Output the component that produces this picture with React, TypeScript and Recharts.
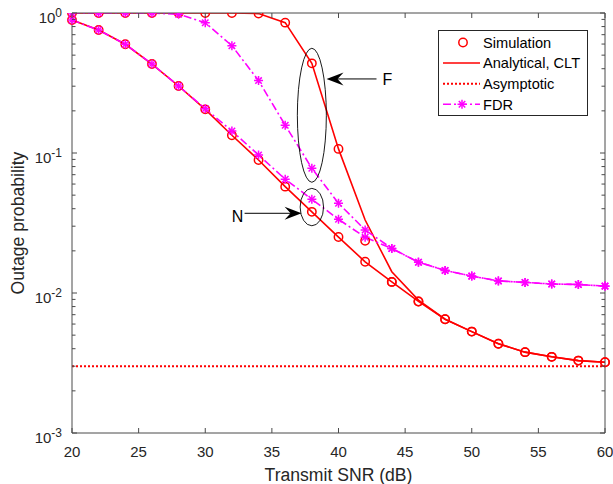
import React from 'react';
import { LineChart, Line, XAxis, YAxis, Legend, ReferenceDot } from 'recharts';

// ---------- data ----------
const snr = [20, 22, 24, 26, 28, 30, 32, 34, 36, 38, 40, 42, 44, 46, 48, 50, 52, 54, 56, 58, 60];
const simFar = [1, 1, 1, 1, 1, 1, 1, 0.99, 0.853, 0.437, 0.107, 0.0236, 0.012, 0.0087, 0.0065, 0.0053, 0.00434, 0.00378, 0.0035, 0.00329, 0.0032];
const cltFar = [1, 1, 1, 1, 1, 1, 1, 0.99, 0.853, 0.437, 0.107, 0.0332, 0.0142, 0.0089, 0.0065, 0.0053, 0.00434, 0.00378, 0.0035, 0.00329, 0.0032];
const simNear = [0.891, 0.756, 0.598, 0.432, 0.301, 0.205, 0.134, 0.0891, 0.0575, 0.038, 0.0251, 0.0167, 0.012, 0.0087, 0.0065, 0.0053, 0.00434, 0.00378, 0.0035, 0.00329, 0.0032];
const cltNear = [0.891, 0.756, 0.598, 0.432, 0.301, 0.205, 0.134, 0.0891, 0.0575, 0.038, 0.0251, 0.0167, 0.012, 0.0087, 0.0065, 0.0053, 0.00434, 0.00378, 0.0035, 0.00329, 0.0032];
const fdrFar = [1, 1, 1, 1, 0.98, 0.853, 0.584, 0.329, 0.158, 0.0778, 0.0437, 0.0282, 0.0208, 0.0166, 0.0145, 0.0132, 0.0122, 0.0119, 0.0116, 0.0115, 0.0112];
const fdrNear = [0.891, 0.756, 0.598, 0.432, 0.301, 0.207, 0.1436, 0.0968, 0.065, 0.0467, 0.0336, 0.025, 0.0208, 0.0166, 0.0145, 0.0132, 0.0122, 0.0119, 0.0116, 0.0115, 0.0112];
const asymptotic = [0.003, 0.003, 0.003, 0.003, 0.003, 0.003, 0.003, 0.003, 0.003, 0.003, 0.003, 0.003, 0.003, 0.003, 0.003, 0.003, 0.003, 0.003, 0.003, 0.003, 0.003];

const xTicks = [20, 25, 30, 35, 40, 45, 50, 55, 60];
const yTicks = [
  0.001, 0.002, 0.003, 0.004, 0.005, 0.006, 0.007, 0.008, 0.009,
  0.01, 0.02, 0.03, 0.04, 0.05, 0.06, 0.07, 0.08, 0.09,
  0.1, 0.2, 0.3, 0.4, 0.5, 0.6, 0.7, 0.8, 0.9, 1,
];

const legendLabels = ['Simulation', 'Analytical, CLT', 'Asymptotic', 'FDR'];

// annotation anchors (data coordinates)
const farEllipse = { x: 38, y: 0.186 };
const nearEllipse = { x: 38, y: 0.0411 };
const farArrowTip = { x: 39.1, y: 0.338 };
const nearArrowTip = { x: 37.23, y: 0.0371 };

const data = snr.map((s, i) => ({
  snr: s,
  simFar: simFar[i],
  cltFar: cltFar[i],
  simNear: simNear[i],
  cltNear: cltNear[i],
  fdrFar: fdrFar[i],
  fdrNear: fdrNear[i],
  asym: asymptotic[i],
}));

// ---------- styles ----------
const FONT = '"Liberation Sans", Arial, Helvetica, sans-serif';
const AX = '#4a4a4a';
const TXT = '#262626';
const RED = '#ff0000';
const MAG = '#ff00ff';
const DASHDOT = '8 3 2 3';

const isMajor = (v: number) => Math.abs(Math.log10(v) - Math.round(Math.log10(v))) < 1e-6;

const BottomTick = (p: any) => {
  const { x, y, payload } = p;
  return (
    <g>
      <line x1={x} x2={x} y1={y} y2={y - 5} stroke={AX} strokeWidth={1} />
      <text x={x} y={y + 24} textAnchor="middle" fontSize={15} fill={TXT} fontFamily={FONT}>
        {payload.value}
      </text>
    </g>
  );
};

const TopTick = (p: any) => {
  const { x, y } = p;
  return <line x1={x} x2={x} y1={y} y2={y + 5} stroke={AX} strokeWidth={1} />;
};

const LeftTick = (p: any) => {
  const { x, y, payload } = p;
  const v = payload.value as number;
  const major = isMajor(v);
  return (
    <g>
      <line x1={x} x2={x + (major ? 5 : 3.5)} y1={y} y2={y} stroke={AX} strokeWidth={1} />
      {major && (
        <text x={x - 10} y={y + 10} textAnchor="end" fontSize={15} fill={TXT} fontFamily={FONT}>
          <tspan>10</tspan>
          <tspan dy={-6} fontSize={12}>{String(Math.round(Math.log10(v)))}</tspan>
        </text>
      )}
    </g>
  );
};

const RightTick = (p: any) => {
  const { x, y, payload } = p;
  const major = isMajor(payload.value as number);
  return <line x1={x} x2={x - (major ? 5 : 3.5)} y1={y} y2={y} stroke={AX} strokeWidth={1} />;
};

const CircleDot = (p: any) => {
  const { cx, cy, index } = p;
  if (cx == null || cy == null) return <g key={index} />;
  return <circle key={index} cx={cx} cy={cy} r={4.2} fill="none" stroke={RED} strokeWidth={1.5} />;
};

const Asterisk = ({ cx, cy, r = 4.5 }: { cx: number; cy: number; r?: number }) => {
  const d = r * 0.72;
  return (
    <g stroke={MAG} strokeWidth={1.5}>
      <line x1={cx - r} x2={cx + r} y1={cy} y2={cy} />
      <line x1={cx} x2={cx} y1={cy - r} y2={cy + r} />
      <line x1={cx - d} x2={cx + d} y1={cy - d} y2={cy + d} />
      <line x1={cx - d} x2={cx + d} y1={cy + d} y2={cy - d} />
    </g>
  );
};

const AsteriskDot = (p: any) => {
  const { cx, cy, index } = p;
  if (cx == null || cy == null) return <g key={index} />;
  return (
    <g key={index}>
      <Asterisk cx={cx} cy={cy} />
    </g>
  );
};

const LegendBox = () => {
  const rowY = [12.5, 33, 53.7, 74.3];
  return (
    <svg width={151} height={87} style={{ display: 'block' }}>
      <rect x={0.5} y={0.5} width={149} height={85} fill="#fff" stroke="#262626" strokeWidth={1} />
      <circle cx={25} cy={rowY[0]} r={4.2} fill="none" stroke={RED} strokeWidth={1.5} />
      <line x1={5} x2={42} y1={rowY[1]} y2={rowY[1]} stroke={RED} strokeWidth={1.6} />
      <line x1={5} x2={42} y1={rowY[2]} y2={rowY[2]} stroke={RED} strokeWidth={2} strokeDasharray="2 2" />
      <line x1={5} x2={42} y1={rowY[3]} y2={rowY[3]} stroke={MAG} strokeWidth={1.6} strokeDasharray={DASHDOT} />
      <Asterisk cx={24} cy={rowY[3]} />
      {legendLabels.map((t, i) => (
        <text key={t} x={45} y={rowY[i] + 5.3} fontSize={14.6} fill="#000" fontFamily={FONT}>
          {t}
        </text>
      ))}
    </svg>
  );
};

export default function App() {
  return (
    <div style={{ position: 'absolute', left: 0, top: 0 }}>
      <LineChart width={613} height={484} data={data} margin={{ top: 12, right: 7, bottom: 50, left: 71 }}>
        <XAxis
          xAxisId="b"
          dataKey="snr"
          type="number"
          domain={[20, 60]}
          ticks={xTicks}
          interval={0}
          height={1}
          tickSize={0}
          tickMargin={0}
          tickLine={false}
          axisLine={{ stroke: AX, strokeWidth: 1 }}
          tick={<BottomTick />}
          label={(props: any) => {
            const vb = props.viewBox || {};
            return (
              <text x={vb.x + vb.width / 2} y={481} textAnchor="middle" fontSize={17.6} fill={TXT} fontFamily={FONT}>
                Transmit SNR (dB)
              </text>
            );
          }}
        />
        <XAxis
          xAxisId="t"
          orientation="top"
          dataKey="snr"
          type="number"
          domain={[20, 60]}
          ticks={xTicks}
          interval={0}
          height={1}
          tickSize={0}
          tickMargin={0}
          tickLine={false}
          axisLine={{ stroke: AX, strokeWidth: 1 }}
          tick={<TopTick />}
        />
        <YAxis
          yAxisId="l"
          type="number"
          scale="log"
          domain={[0.001, 1]}
          allowDataOverflow
          ticks={yTicks}
          interval={0}
          width={1}
          tickSize={0}
          tickMargin={0}
          tickLine={false}
          axisLine={{ stroke: AX, strokeWidth: 1 }}
          tick={<LeftTick />}
          label={(props: any) => {
            const vb = props.viewBox || {};
            const cy = vb.y + vb.height / 2;
            return (
              <text
                x={24}
                y={cy}
                transform={`rotate(-90, 24, ${cy})`}
                textAnchor="middle"
                fontSize={17.6}
                fill={TXT}
                fontFamily={FONT}
              >
                Outage probability
              </text>
            );
          }}
        />
        <YAxis
          yAxisId="r"
          orientation="right"
          type="number"
          scale="log"
          domain={[0.001, 1]}
          allowDataOverflow
          ticks={yTicks}
          interval={0}
          width={1}
          tickSize={0}
          tickMargin={0}
          tickLine={false}
          axisLine={{ stroke: AX, strokeWidth: 1 }}
          tick={<RightTick />}
        />

        <Line xAxisId="b" yAxisId="l" dataKey="asym" stroke={RED} strokeWidth={2} strokeDasharray="2 2" dot={false} isAnimationActive={false} />
        <Line xAxisId="b" yAxisId="l" dataKey="cltFar" stroke={RED} strokeWidth={1.6} dot={false} isAnimationActive={false} />
        <Line xAxisId="b" yAxisId="l" dataKey="cltNear" stroke={RED} strokeWidth={1.6} dot={false} isAnimationActive={false} />
        <Line xAxisId="b" yAxisId="l" dataKey="simFar" stroke="none" strokeWidth={0} dot={CircleDot} isAnimationActive={false} />
        <Line xAxisId="b" yAxisId="l" dataKey="simNear" stroke="none" strokeWidth={0} dot={CircleDot} isAnimationActive={false} />
        <Line xAxisId="b" yAxisId="l" dataKey="fdrFar" stroke={MAG} strokeWidth={1.6} strokeDasharray={DASHDOT} dot={AsteriskDot} isAnimationActive={false} />
        <Line xAxisId="b" yAxisId="l" dataKey="fdrNear" stroke={MAG} strokeWidth={1.6} strokeDasharray={DASHDOT} dot={AsteriskDot} isAnimationActive={false} />

        <ReferenceDot
          xAxisId="b"
          yAxisId="l"
          x={farEllipse.x}
          y={farEllipse.y}
          shape={(p: any) => <ellipse cx={p.cx} cy={p.cy} rx={14.5} ry={67} fill="none" stroke="#000" strokeWidth={0.9} />}
        />
        <ReferenceDot
          xAxisId="b"
          yAxisId="l"
          x={nearEllipse.x}
          y={nearEllipse.y}
          shape={(p: any) => <ellipse cx={p.cx} cy={p.cy} rx={11.7} ry={18.7} fill="none" stroke="#000" strokeWidth={0.9} />}
        />
        <ReferenceDot
          xAxisId="b"
          yAxisId="l"
          x={farArrowTip.x}
          y={farArrowTip.y}
          shape={(p: any) => {
            const { cx, cy } = p;
            return (
              <g>
                <line x1={cx + 10} y1={cy} x2={cx + 50} y2={cy} stroke="#000" strokeWidth={1} />
                <polygon points={`${cx},${cy} ${cx + 17},${cy - 6.5} ${cx + 11},${cy} ${cx + 17},${cy + 6.5}`} fill="#000" />
                <text x={cx + 61} y={cy + 6.5} textAnchor="middle" fontSize={16} fill="#000" fontFamily={FONT}>F</text>
              </g>
            );
          }}
        />
        <ReferenceDot
          xAxisId="b"
          yAxisId="l"
          x={nearArrowTip.x}
          y={nearArrowTip.y}
          shape={(p: any) => {
            const { cx, cy } = p;
            return (
              <g>
                <line x1={cx - 57} y1={cy} x2={cx - 10} y2={cy} stroke="#000" strokeWidth={1} />
                <polygon points={`${cx},${cy} ${cx - 17},${cy - 6.5} ${cx - 11},${cy} ${cx - 17},${cy + 6.5}`} fill="#000" />
                <text x={cx - 64} y={cy + 8.5} textAnchor="middle" fontSize={16} fill="#000" fontFamily={FONT}>N</text>
              </g>
            );
          }}
        />

        <Legend
          layout="vertical"
          align="center"
          verticalAlign="middle"
          content={() => <LegendBox />}
          wrapperStyle={{ position: 'absolute', left: 438, top: 30, width: 151, height: 87, lineHeight: 0 }}
        />
      </LineChart>
    </div>
  );
}
